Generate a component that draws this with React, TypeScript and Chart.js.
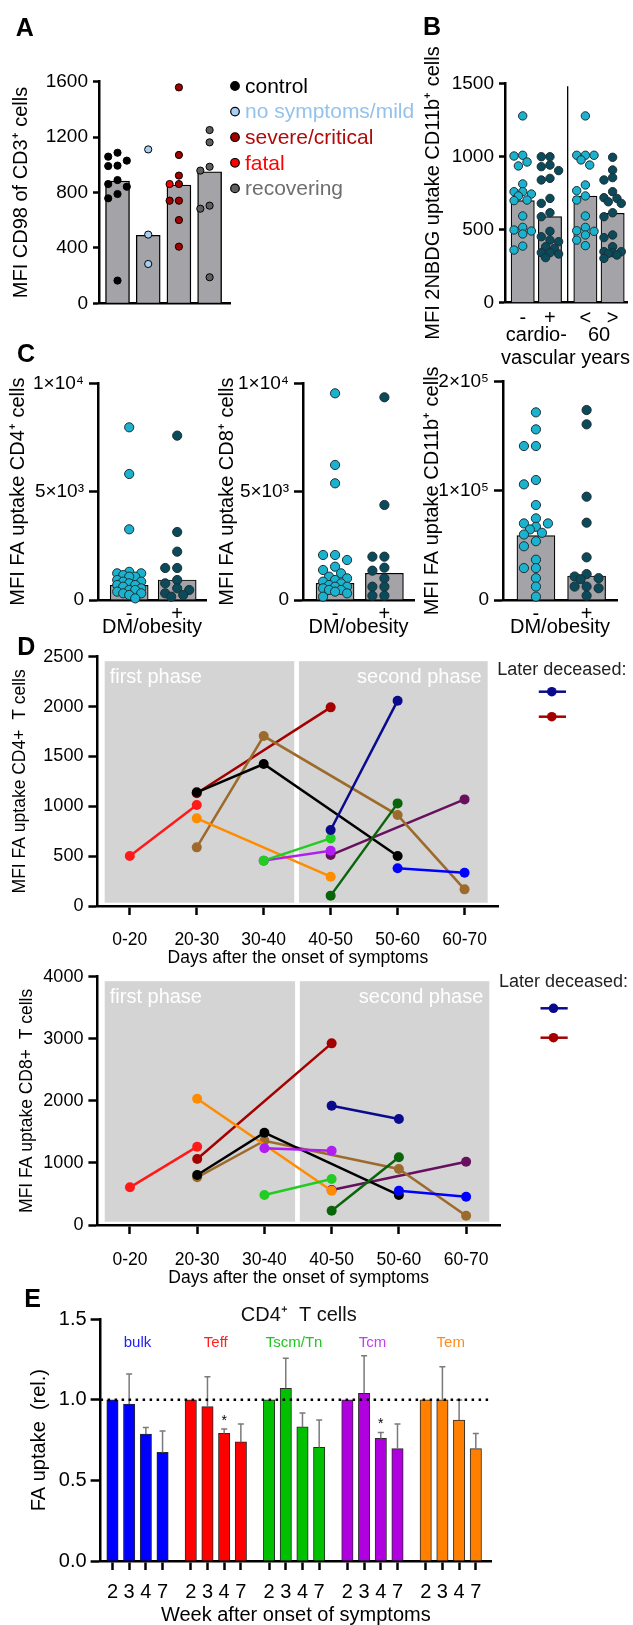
import React, { useEffect, useRef } from 'react';
import { Chart, registerables } from 'chart.js';

Chart.register(...registerables);

const FONT = "'Liberation Sans', Arial, Helvetica, sans-serif";

// ---------------- Panel A ----------------
const aLegendNames = ['control', 'no symptoms/mild', 'severe/critical', 'fatal', 'recovering'];
const aGroupOf = [0, 1, 2, 2, 3];
const aBarValues = [883, 491, 854, 950];
const aControl = [1087, 1059, 1030, 994, 991, 890, 861, 842, 789, 758, 164];
const aMild = [1111, 496, 284];
const aSevere = [1559, 1071, 922, 861, 741, 741, 601, 409];
const aFatal = [861];
const aRecovering = [1251, 1162, 986, 958, 705, 683, 188];
const aDotColors = ['#000000', '#a8cff3', '#a30000', '#ff0000', '#5f5f5f'];
const aTextColors = ['#000000', '#94c2ee', '#b00a0a', '#ff0000', '#6e6e6e'];

// ---------------- Panel B ----------------
const bTickLabels = ['-', '+', '<', '>'];
const bGroupLine1 = ['cardio-', '60'];
const bGroupLine2 = ['vascular', 'years'];
const bBarValues = [698, 588, 729, 611];
const bCvdNeg = [1277, 1008, 1003, 962, 935, 812, 759, 759, 743, 730, 702, 698, 593, 515, 497, 490, 470, 387, 360];
const bCvdPos = [998, 998, 941, 930, 903, 850, 839, 713, 679, 615, 588, 488, 451, 428, 417, 383, 371, 342, 342, 333, 308];
const bAgeUnder = [1277, 1008, 1008, 1008, 976, 941, 805, 766, 730, 702, 593, 515, 492, 488, 463, 428, 390];
const bAgeOver = [994, 907, 855, 839, 759, 718, 713, 690, 679, 615, 588, 463, 445, 383, 349, 349, 342, 337, 326, 303];

// ---------------- Panel C ----------------
const cTickLabels = ['-', '+'];
const cSmallTicks = ['0', '5×10³', '1×10⁴'];
const cLargeTicks = ['0', '1×10⁵', '2×10⁵'];
const cCD4Bars = [677, 923];
const cCD4Neg = [7969, 5815, 3262, 1300, 1231, 1231, 1150, 1077, 1077, 923, 846, 846, 769, 692, 692, 615, 538, 462, 462, 385, 308, 308, 231, 77];
const cCD4Pos = [7585, 3138, 2231, 1477, 1477, 923, 769, 538, 462, 308, 231, 154];
const cCD8Bars = [769, 1231];
const cCD8Neg = [9538, 6231, 5385, 2077, 2077, 1846, 1538, 1385, 1231, 1077, 1000, 923, 846, 769, 692, 615, 615, 538, 462, 462, 385, 308, 154];
const cCD8Pos = [9354, 4385, 2000, 2000, 1492, 1354, 1000, 615, 615, 200, 200];
const cCD11bBars = [58931, 21985];
const cCD11bNeg = [171908, 156336, 141069, 141069, 109924, 105954, 87023, 74769, 70154, 70154, 67077, 64615, 61538, 60000, 53846, 49231, 36923, 29231, 29231, 20000, 12308, 3077];
const cCD11bPos = [174046, 160916, 94656, 70840, 39084, 23692, 21538, 20000, 19077, 12308, 12308, 10769, 4000];

// ---------------- Panel D ----------------
const dX = ['0-20', '20-30', '30-40', '40-50', '50-60', '60-70'];
const dPhaseFrom = [-0.375, 2.527];
const dPhaseTo = [2.456, 5.345];
const dPhaseNames = ['first phase', 'second phase'];
const d4Red = [501, 1013, null, null, null, null];
const d4DarkRed = [null, 1130, null, 1992, null, null];
const d4Black = [null, 1140, 1424, null, 501, null];
const d4Brown = [null, 588, 1704, null, 912, 167];
const d4Orange = [null, 879, null, 294, null, null];
const d4Green = [null, null, 455, 678, null, null];
const d4Violet = [null, null, 455, 555, null, null];
const d4Plum = [null, null, null, 511, null, 1069];
const d4Navy = [null, null, null, 762, 2059, null];
const d4DarkGreen = [null, null, null, 104, 1029, null];
const d4Blue = [null, null, null, null, 378, 334];
const d8Red = [607, 1262, null, null, null, null];
const d8DarkRed = [null, 1063, null, 2926, null, null];
const d8Black = [null, 805, 1487, null, 483, null];
const d8Brown = [null, 768, 1358, null, 902, 150];
const d8Orange = [null, 2035, null, 553, null, null];
const d8Green = [null, null, 483, 741, null, null];
const d8Violet = [null, null, 1235, 1197, null, null];
const d8Plum = [null, null, null, 564, null, 1020];
const d8Navy = [null, null, null, 1922, 1707, null];
const d8DarkGreen = [null, null, null, 231, 1090, null];
const d8Blue = [null, null, null, null, 553, 456];

// bottom-most first
const dSeries = [
  { color: '#66105e', cd4: d4Plum, cd8: d8Plum },
  { color: '#ff1a1a', cd4: d4Red, cd8: d8Red },
  { color: '#a50000', cd4: d4DarkRed, cd8: d8DarkRed },
  { color: '#9c6b2c', cd4: d4Brown, cd8: d8Brown },
  { color: '#ff8c00', cd4: d4Orange, cd8: d8Orange },
  { color: '#000000', cd4: d4Black, cd8: d8Black },
  { color: '#b01ef0', cd4: d4Violet, cd8: d8Violet },
  { color: '#22cc22', cd4: d4Green, cd8: d8Green },
  { color: '#0a0a8c', cd4: d4Navy, cd8: d8Navy },
  { color: '#0a640a', cd4: d4DarkGreen, cd8: d8DarkGreen },
  { color: '#0000ff', cd4: d4Blue, cd8: d8Blue },
];
const dDeceasedColors = ['#0a0a8c', '#a50000'];

// ---------------- Panel E ----------------
const eGroups = ['bulk', 'Teff', 'Tscm/Tn', 'Tcm', 'Tem'];
const eWeeks = ['2', '3', '4', '7'];
const eBulk = [1.0, 0.974, 0.788, 0.674];
const eBulkErr = [0, 0.187, 0.04, 0.133];
const eTeff = [1.0, 0.958, 0.792, 0.739];
const eTeffErr = [0, 0.186, 0.027, 0.111];
const eTscm = [1.0, 1.072, 0.832, 0.705];
const eTscmErr = [0, 0.186, 0.087, 0.17];
const eTcm = [1.0, 1.041, 0.761, 0.697];
const eTcmErr = [0, 0.233, 0.036, 0.153];
const eTem = [1.0, 1.0, 0.875, 0.697];
const eTemErr = [0, 0.206, 0.124, 0.095];
const eStars = [[1, 2], [3, 2]];
const eBarColors = ['#0000ff', '#ff0000', '#00c000', '#b000e0', '#ff8000'];
const eLabelColors = ['#2020ff', '#ff2020', '#22c422', '#c040f0', '#ff8c1a'];
const eGroupStep = 4.69;

// ---------------- helpers ----------------
type Box = { x: number; y: number; w: number; h: number };
type Area = { l: number; t: number; r: number; b: number };

function frame(box: Box, area: Area) {
  return {
    padL: area.l - box.x,
    padT: area.t - box.y,
    padR: box.x + box.w - area.r,
    padB: box.y + box.h - area.b,
  };
}

function swarm(vals: number[], pxPerVal: number, step: number, diam: number, maxOff: number): number[] {
  const placed: { x: number; y: number }[] = [];
  const out: number[] = vals.map(() => 0);
  const order = vals.map((_, i) => i).sort((a, b) => vals[b] - vals[a]);
  const cands: number[] = [0];
  for (let k = 1; k * step <= maxOff + 1e-6; k++) cands.push(-k * step, k * step);
  for (const i of order) {
    const y = vals[i] * pxPerVal;
    let best = 0;
    let bestD = -1;
    for (const c of cands) {
      let d = Infinity;
      for (const p of placed) d = Math.min(d, Math.hypot(p.x - c, p.y - y));
      if (d >= diam) { best = c; break; }
      if (d > bestD) { bestD = d; best = c; }
    }
    placed.push({ x: best, y });
    out[i] = best;
  }
  return out;
}

function swarmGroups(classes: number[][], groupOf: number[], pxY: number, step: number, diam: number, maxOff: number) {
  const offs = classes.map((a) => a.map(() => 0));
  const groups: Record<number, { c: number; k: number }[]> = {};
  classes.forEach((arr, c) => arr.forEach((_, k) => {
    const g = groupOf[c];
    (groups[g] = groups[g] || []).push({ c, k });
  }));
  Object.values(groups).forEach((members) => {
    const vals = members.map((m) => classes[m.c][m.k]);
    const o = swarm(vals, pxY, step, diam, maxOff);
    members.forEach((m, j) => { offs[m.c][m.k] = o[j]; });
  });
  return offs;
}

function yScale(o: any) {
  const f = frame(o.box, o.area);
  const lh = o.titleSize * 1.2;
  const ticks: any = {
    stepSize: o.step, color: '#000', padding: o.tickPad, font: { family: FONT, size: o.fontSize },
    callback: o.labels ? (_v: any, i: number) => o.labels[i] : (v: any) => String(v),
  };
  return {
    type: 'linear', min: o.min, max: o.max, bounds: 'data',
    afterFit: (s: any) => { s.width = f.padL; },
    border: { display: true, color: '#000', width: 2.5 },
    grid: { display: true, drawOnChartArea: false, drawTicks: true, tickLength: o.tickLen, tickWidth: 2.5, tickColor: '#000' },
    ticks,
    title: {
      display: true, text: o.title, color: '#000',
      font: { family: FONT, size: o.titleSize, lineHeight: 1.2 },
      padding: { top: o.titleX - o.box.x - lh / 2, bottom: 0 },
    },
  };
}

function xScale(o: any) {
  const f = frame(o.box, o.area);
  const s: any = {
    type: 'linear', min: o.min, max: o.max, offset: false, bounds: 'data',
    afterFit: (sc: any) => { sc.height = f.padB; },
    border: { display: true, color: '#000', width: 2.5 },
    grid: o.tickLen
      ? { display: true, offset: false, drawOnChartArea: false, drawTicks: true, tickLength: o.tickLen, tickWidth: 2.5, tickColor: '#000' }
      : { display: false, offset: false, drawTicks: false },
    ticks: { display: false },
  };
  if (o.positions) {
    s.afterBuildTicks = (sc: any) => { sc.ticks = o.positions.map((v: number) => ({ value: v })); };
    s.ticks = {
      display: true, autoSkip: false, maxRotation: 0, minRotation: 0, color: '#000',
      padding: o.tickPad, font: { family: FONT, size: o.fontSize, lineHeight: 1.2 },
      callback: (_v: any, i: number) => o.labels[i],
    };
  }
  if (o.title) {
    const lh = o.titleSize * (o.titleLH || 1.2);
    s.title = {
      display: true, text: o.title, color: '#000',
      font: { family: FONT, size: o.titleSize, lineHeight: o.titleLH || 1.2 },
      padding: { top: 0, bottom: o.box.y + o.box.h - o.titleY - lh / 2 },
    };
  }
  return s;
}

function baseOptions(box: Box, area: Area, scales: any) {
  const f = frame(box, area);
  return {
    responsive: false,
    animation: false,
    devicePixelRatio: 1,
    layout: { padding: { left: 0, top: f.padT, right: f.padR, bottom: 0 } },
    plugins: { legend: { display: false }, tooltip: { enabled: false }, title: { display: false } },
    scales,
  };
}

// ---------------- Chart A ----------------
const aBox: Box = { x: 0, y: 40, w: 420, h: 283 };
const aArea: Area = { l: 99, t: 81.7, r: 230, b: 303.3 };
function makeA() {
  const xMin = -0.603, xMax = 3.664, yMax = 1600;
  const pxY = (aArea.b - aArea.t) / yMax;
  const pxX = (aArea.r - aArea.l) / (xMax - xMin);
  const classes = [aControl, aMild, aSevere, aFatal, aRecovering];
  const offs = swarmGroups(classes, aGroupOf, pxY, 9.3, 8, 9.3);
  const datasets: any[] = [
    {
      type: 'bar', grouped: false, data: aBarValues.map((v, i) => ({ x: i, y: v })), backgroundColor: '#a4a4a8',
      borderColor: '#000', borderWidth: 1.4, barThickness: 24, order: 2,
    },
    ...classes.map((arr, c) => ({
      type: 'scatter', data: arr.map((v, k) => ({ x: aGroupOf[c] + offs[c][k] / pxX, y: v })),
      pointRadius: 3.6, pointBackgroundColor: aDotColors[c], pointBorderColor: '#000', pointBorderWidth: 1,
      order: 1, clip: false,
    })),
  ];
  const legendPlugin = {
    id: 'aLegend',
    afterDraw(chart: any) {
      const { ctx, chartArea: ca } = chart;
      ctx.save();
      ctx.font = `21px ${FONT}`;
      ctx.textBaseline = 'middle';
      ctx.textAlign = 'left';
      aLegendNames.forEach((name, i) => {
        const y = ca.top + 4.3 + i * 25.6;
        const x = ca.right + 5;
        ctx.beginPath();
        ctx.arc(x, y, 4.3, 0, Math.PI * 2);
        ctx.fillStyle = aDotColors[i];
        ctx.fill();
        ctx.lineWidth = 1.2;
        ctx.strokeStyle = '#000';
        ctx.stroke();
        ctx.fillStyle = aTextColors[i];
        ctx.fillText(name, x + 10, y + 1);
      });
      ctx.restore();
    },
  };
  return {
    type: 'bar',
    data: { datasets },
    options: baseOptions(aBox, aArea, {
      x: xScale({ box: aBox, area: aArea, min: xMin, max: xMax }),
      y: yScale({ box: aBox, area: aArea, min: 0, max: yMax, step: 400, fontSize: 19, tickLen: 6, tickPad: 5, title: 'MFI CD98 of CD3⁺ cells', titleSize: 20, titleX: 21.7 }),
    }),
    plugins: [legendPlugin],
  };
}

// ---------------- Chart B ----------------
const bBox: Box = { x: 410, y: 38, w: 223, h: 337 };
const bArea: Area = { l: 505, t: 83.3, r: 632.5, b: 302.7 };
const bPairStep = 2.3;
function makeB() {
  const xMin = -0.65, xMax = 3.857, yMax = 1500;
  const pos = bTickLabels.map((_, i) => Math.floor(i / 2) * bPairStep + (i % 2));
  const pxY = (bArea.b - bArea.t) / yMax;
  const pxX = (bArea.r - bArea.l) / (xMax - xMin);
  const classes = [bCvdNeg, bCvdPos, bAgeUnder, bAgeOver];
  const colors = ['#1bb2cf', '#0b4a5b', '#1bb2cf', '#0b4a5b'];
  const offs = swarmGroups(classes, [0, 1, 2, 3], pxY, 4.5, 7.5, 11);
  const datasets: any[] = [
    {
      type: 'bar', grouped: false, data: bBarValues.map((v, i) => ({ x: pos[i], y: v })), backgroundColor: '#a4a4a8',
      borderColor: '#000', borderWidth: 1.2, barThickness: 23.3, order: 2,
    },
    ...classes.map((arr, c) => ({
      type: 'scatter', data: arr.map((v, k) => ({ x: pos[c] + offs[c][k] / pxX, y: v })),
      pointRadius: 4.2, pointBackgroundColor: colors[c], pointBorderColor: '#1d2f33', pointBorderWidth: 1,
      order: 1, clip: false,
    })),
  ];
  const plugin = {
    id: 'bExtras',
    afterDraw(chart: any) {
      const { ctx, chartArea: ca, scales } = chart;
      const xs = scales.x;
      ctx.save();
      const sx = xs.getPixelForValue((pos[1] + pos[2]) / 2);
      ctx.strokeStyle = '#000';
      ctx.lineWidth = 1.3;
      ctx.beginPath();
      ctx.moveTo(sx, ca.top + 3);
      ctx.lineTo(sx, ca.bottom);
      ctx.stroke();
      ctx.fillStyle = '#000';
      ctx.font = `20px ${FONT}`;
      ctx.textBaseline = 'middle';
      const c0 = xs.getPixelForValue((pos[0] + pos[1]) / 2);
      ctx.textAlign = 'center';
      bGroupLine1.forEach((t, p) => {
        const cx = xs.getPixelForValue((pos[2 * p] + pos[2 * p + 1]) / 2);
        ctx.fillText(t, cx, ca.bottom + 32.3);
      });
      ctx.textAlign = 'left';
      const line2 = bGroupLine2.join(' ');
      ctx.fillText(line2, c0 - ctx.measureText(bGroupLine2[0]).width / 2 + 2, ca.bottom + 55.3);
      ctx.restore();
    },
  };
  return {
    type: 'bar',
    data: { datasets },
    options: baseOptions(bBox, bArea, {
      x: xScale({ box: bBox, area: bArea, min: xMin, max: xMax, positions: pos, labels: bTickLabels, tickPad: 3.6, fontSize: 20 }),
      y: yScale({ box: bBox, area: bArea, min: 0, max: yMax, step: 500, fontSize: 19, tickLen: 6, tickPad: 5, title: 'MFI 2NBDG uptake CD11b⁺ cells', titleSize: 20, titleX: 433 }),
    }),
    plugins: [plugin],
  };
}

// ---------------- Charts C ----------------
function makeC(box: Box, area: Area, bars: number[], neg: number[], pos: number[], yMax: number, tickLabels: string[], title: string, titleX: number) {
  const xMin = -0.65, xMax = 1.6;
  const pxY = (area.b - area.t) / yMax;
  const pxX = (area.r - area.l) / (xMax - xMin);
  const classes = [neg, pos];
  const colors = ['#1bb2cf', '#0b4a5b'];
  const offs = swarmGroups(classes, [0, 1], pxY, 6, 8, 16);
  const datasets: any[] = [
    {
      type: 'bar', grouped: false, data: bars.map((v, i) => ({ x: i, y: v })), backgroundColor: '#a4a4a8',
      borderColor: '#000', borderWidth: 1.2, barThickness: 38, order: 2,
    },
    ...classes.map((arr, c) => ({
      type: 'scatter', data: arr.map((v, k) => ({ x: c + offs[c][k] / pxX, y: v })),
      pointRadius: 4.6, pointBackgroundColor: colors[c], pointBorderColor: '#1d2f33', pointBorderWidth: 1,
      order: 1, clip: false,
    })),
  ];
  return {
    type: 'bar',
    data: { datasets },
    options: baseOptions(box, area, {
      x: xScale({ box, area, min: xMin, max: xMax, positions: [0, 1], labels: cTickLabels, tickPad: 2, fontSize: 20, title: 'DM/obesity', titleSize: 20, titleY: 627.5 }),
      y: yScale({ box, area, min: 0, max: yMax, step: yMax / 2, fontSize: 19, tickLen: 9, tickPad: 5, title, titleSize: 20, titleX, labels: tickLabels }),
    }),
  };
}
const c1Box: Box = { x: 0, y: 355, w: 213, h: 285 };
const c1Area: Area = { l: 98, t: 383.3, r: 206, b: 600 };
const c2Box: Box = { x: 213, y: 355, w: 207, h: 285 };
const c2Area: Area = { l: 303, t: 383.3, r: 414, b: 600 };
const c3Box: Box = { x: 420, y: 355, w: 213, h: 285 };
const c3Area: Area = { l: 503, t: 381.7, r: 617, b: 600 };

// ---------------- Charts D ----------------
function makeD(box: Box, area: Area, key: 'cd4' | 'cd8', yMax: number, step: number, title: string, titleX: number, titleY: number, legendOff: number[]) {
  const xMin = -0.484, xMax = 5.504;
  const datasets = dSeries.slice().reverse().map((s) => ({
    type: 'line',
    data: (s[key] as (number | null)[]).map((v, i) => (v == null ? null : { x: i, y: v })).filter((p) => p !== null),
    borderColor: s.color, backgroundColor: s.color, borderWidth: 2.5,
    pointRadius: 5, pointBackgroundColor: s.color, pointBorderWidth: 0, tension: 0, clip: false,
  }));
  const plugin = {
    id: 'dExtras',
    beforeDatasetsDraw(chart: any) {
      const { ctx, chartArea: ca, scales } = chart;
      const xs = scales.x;
      ctx.save();
      const top = ca.top + 4.5;
      const bottom = ca.bottom - 3.3;
      dPhaseFrom.forEach((from, i) => {
        const x0 = xs.getPixelForValue(from);
        const x1 = xs.getPixelForValue(dPhaseTo[i]);
        ctx.fillStyle = '#d4d4d4';
        ctx.fillRect(x0, top, x1 - x0, bottom - top);
        ctx.fillStyle = '#ffffff';
        ctx.font = `20px ${FONT}`;
        ctx.textBaseline = 'middle';
        if (i === 0) { ctx.textAlign = 'left'; ctx.fillText(dPhaseNames[i], x0 + 5, top + 16.6); }
        else { ctx.textAlign = 'right'; ctx.fillText(dPhaseNames[i], x1 - 6, top + 16.6); }
      });
      ctx.restore();
    },
    afterDraw(chart: any) {
      const { ctx, chartArea: ca } = chart;
      ctx.save();
      ctx.fillStyle = '#222';
      ctx.font = `18px ${FONT}`;
      ctx.textAlign = 'left';
      ctx.textBaseline = 'middle';
      ctx.fillText('Later deceased:', ca.right - 1, ca.top + legendOff[0]);
      dDeceasedColors.forEach((c, i) => {
        const y = ca.top + legendOff[i + 1];
        ctx.strokeStyle = c;
        ctx.lineWidth = 2.5;
        ctx.beginPath();
        ctx.moveTo(ca.right + 40.5, y);
        ctx.lineTo(ca.right + 67.7, y);
        ctx.stroke();
        ctx.fillStyle = c;
        ctx.beginPath();
        ctx.arc(ca.right + 53.5, y, 4.8, 0, Math.PI * 2);
        ctx.fill();
      });
      ctx.restore();
    },
  };
  return {
    type: 'line',
    data: { datasets },
    options: baseOptions(box, area, {
      x: xScale({ box, area, min: xMin, max: xMax, positions: dX.map((_, i) => i), labels: dX, tickLen: 9, tickPad: titleY - area.b - 9 - 10.5 - 18, fontSize: 17.5, title: 'Days after the onset of symptoms', titleSize: 17.5, titleY }),
      y: yScale({ box, area, min: 0, max: yMax, step, fontSize: 18, tickLen: 9, tickPad: 5, title, titleSize: 17.5, titleX }),
    }),
    plugins: [plugin],
  };
}
const d1Box: Box = { x: 0, y: 640, w: 633, h: 332 };
const d1Area: Area = { l: 97.4, t: 656.7, r: 498.3, b: 906 };
const d2Box: Box = { x: 0, y: 960, w: 633, h: 330 };
const d2Area: Area = { l: 97.4, t: 976.7, r: 500, b: 1225 };

// ---------------- Chart E ----------------
const eBox: Box = { x: 0, y: 1290, w: 633, h: 335 };
const eArea: Area = { l: 100.6, t: 1319.3, r: 491, b: 1561 };
function makeE() {
  const xMin = -0.71, xMax = 22.67;
  const series = [
    { vals: eBulk, err: eBulkErr },
    { vals: eTeff, err: eTeffErr },
    { vals: eTscm, err: eTscmErr },
    { vals: eTcm, err: eTcmErr },
    { vals: eTem, err: eTemErr },
  ];
  const positions: number[] = [];
  const labels: string[] = [];
  series.forEach((_, g) => eWeeks.forEach((w, j) => { positions.push(g * eGroupStep + j); labels.push(w); }));
  const datasets = series.map((s, g) => ({
    type: 'bar', grouped: false,
    data: s.vals.map((v, j) => ({ x: g * eGroupStep + j, y: v })),
    backgroundColor: eBarColors[g], borderColor: '#2a2a2a', borderWidth: 1, barThickness: 11.4,
  }));
  const plugin = {
    id: 'eExtras',
    afterDatasetsDraw(chart: any) {
      const { ctx, chartArea: ca, scales } = chart;
      const xs = scales.x, ys = scales.y;
      ctx.save();
      ctx.strokeStyle = '#7a7a7a';
      ctx.lineWidth = 1.5;
      series.forEach((s, g) => s.vals.forEach((v, j) => {
        const e = s.err[j];
        if (!e) return;
        const x = xs.getPixelForValue(g * eGroupStep + j);
        const y0 = ys.getPixelForValue(v);
        const y1 = ys.getPixelForValue(v + e);
        ctx.beginPath();
        ctx.moveTo(x, y0); ctx.lineTo(x, y1);
        ctx.moveTo(x - 3, y1); ctx.lineTo(x + 3, y1);
        ctx.stroke();
      }));
      const yr = ys.getPixelForValue(1);
      ctx.setLineDash([2.5, 4.5]);
      ctx.strokeStyle = '#000';
      ctx.lineWidth = 2.5;
      ctx.beginPath();
      ctx.moveTo(ca.left, yr); ctx.lineTo(ca.right, yr);
      ctx.stroke();
      ctx.setLineDash([]);
      ctx.fillStyle = '#000';
      ctx.font = `14px ${FONT}`;
      ctx.textAlign = 'center';
      ctx.textBaseline = 'middle';
      eStars.forEach(([g, j]) => {
        const s = series[g];
        const x = xs.getPixelForValue(g * eGroupStep + j);
        ctx.fillText('*', x, ys.getPixelForValue(s.vals[j] + s.err[j]) - 8);
      });
      ctx.font = `15px ${FONT}`;
      eGroups.forEach((name, g) => {
        ctx.fillStyle = eLabelColors[g];
        ctx.fillText(name, xs.getPixelForValue(g * eGroupStep + 1.5), ca.top + 23.4);
      });
      ctx.fillStyle = '#111';
      ctx.font = `20px ${FONT}`;
      ctx.fillText('CD4⁺  T cells', (ca.left + ca.right) / 2 + 3, ca.top - 4.3);
      ctx.restore();
    },
  };
  return {
    type: 'bar',
    data: { datasets },
    options: baseOptions(eBox, eArea, {
      x: xScale({ box: eBox, area: eArea, min: xMin, max: xMax, positions, labels, tickLen: 9, tickPad: 10, fontSize: 20, title: 'Week after onset of symptoms', titleSize: 20, titleLH: 1.0, titleY: 1615 }),
      y: yScale({ box: eBox, area: eArea, min: 0, max: 1.5, step: 0.5, fontSize: 20, tickLen: 10, tickPad: 4, title: 'FA uptake  (rel.)', titleSize: 20, titleX: 39.4, labels: ['0.0', '0.5', '1.0', '1.5'] }),
    }),
    plugins: [plugin],
  };
}

const SPECS: { box: Box; make: () => any }[] = [
  { box: aBox, make: makeA },
  { box: bBox, make: makeB },
  { box: c1Box, make: () => makeC(c1Box, c1Area, cCD4Bars, cCD4Neg, cCD4Pos, 10000, cSmallTicks, 'MFI FA uptake CD4⁺ cells', 18.3) },
  { box: c2Box, make: () => makeC(c2Box, c2Area, cCD8Bars, cCD8Neg, cCD8Pos, 10000, cSmallTicks, 'MFI FA uptake CD8⁺ cells', 227) },
  { box: c3Box, make: () => makeC(c3Box, c3Area, cCD11bBars, cCD11bNeg, cCD11bPos, 200000, cLargeTicks, 'MFI FA uptake CD11b⁺ cells', 432) },
  { box: d1Box, make: () => makeD(d1Box, d1Area, 'cd4', 2500, 500, 'MFI FA uptake CD4+  T cells', 20.3, 958, [13.3, 35, 60]) },
  { box: d2Box, make: () => makeD(d2Box, d2Area, 'cd8', 4000, 1000, 'MFI FA uptake CD8+  T cells', 27, 1277.7, [5, 31.6, 61]) },
  { box: eBox, make: makeE },
];

const LETTERS = [
  { t: 'A', x: 24.7, y: 27 },
  { t: 'B', x: 432, y: 26 },
  { t: 'C', x: 26, y: 353 },
  { t: 'D', x: 26.4, y: 646 },
  { t: 'E', x: 32.5, y: 1298 },
];

export default function App() {
  const refs = useRef<(HTMLCanvasElement | null)[]>([]);
  useEffect(() => {
    const charts = SPECS.map((s, i) => new Chart(refs.current[i] as HTMLCanvasElement, s.make()));
    return () => charts.forEach((c) => c.destroy());
  }, []);
  return (
    <div style={{ position: 'absolute', left: 0, top: 0, width: 633, height: 1625, background: '#fff', fontFamily: FONT, overflow: 'hidden' }}>
      {SPECS.map((s, i) => (
        <canvas
          key={i}
          ref={(el) => { refs.current[i] = el; }}
          width={s.box.w}
          height={s.box.h}
          style={{ position: 'absolute', left: s.box.x, top: s.box.y, width: s.box.w, height: s.box.h }}
        />
      ))}
      {LETTERS.map((l) => (
        <div
          key={l.t}
          style={{ position: 'absolute', left: l.x, top: l.y, transform: 'translate(-50%, -50%)', fontWeight: 'bold', fontSize: 25, lineHeight: '25px', color: '#000' }}
        >
          {l.t}
        </div>
      ))}
    </div>
  );
}
